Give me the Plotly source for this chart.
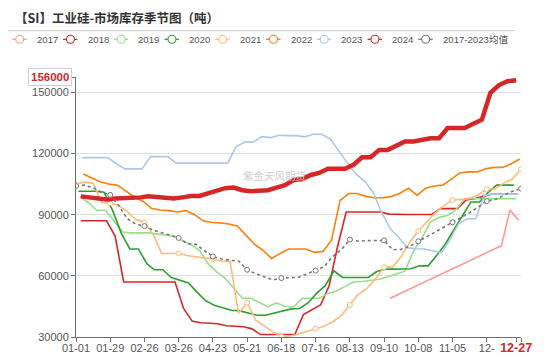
import pandas as pd
import plotly.graph_objects as go

AXIS_YEAR = 2023
RED = "#d62728"

# ---------------- data ----------------
x_tick_dates = ["01-01", "01-29", "02-26", "03-26", "04-23", "05-21", "06-18",
                "07-16", "08-13", "09-10", "10-08", "11-05", "12-03", "12-27", "12-31"]
x_tick_labels = ["01-01", "01-29", "02-26", "03-26", "04-23", "05-21", "06-18",
                 "07-16", "08-13", "09-10", "10-08", "11-05", "12-",
                 "<b><span style='color:#d62728;font-size:12.5px'>12-27</span></b>", ""]
y_ticks = [30000, 60000, 90000, 120000, 150000]
y_max = 157560
latest_label = "156000"

dates_2017 = ["2017-09-15", "2017-12-15", "2017-12-22", "2017-12-29"]
v2017 = [49000, 74800, 92300, 87300]

start_2018 = "2018-01-05"
v2018 = [87000, 87000, 87000, 87000, 79500, 57000, 57000, 57000, 57000, 57000,
         57000, 57000, 44000, 37800, 37000, 36900, 36500, 35500, 35200, 35000,
         34000, 31200, 31200, 31200, 31200, 31200, 41000, 43500, 45700, 55000,
         74500, 91300, 91300, 91300, 91300, 91300, 90300, 90100, 90100, 90100,
         90100, 90100, 93000, 93000, 93000, 97200, 97800, 99000, 100000, 100000,
         100000, 100000]

start_2019 = "2019-01-04"
v2019 = [99000, 96000, 92200, 92200, 87000, 81500, 81100, 81100, 81100, 80600,
         79900, 79400, 77300, 75300, 72500, 66000, 62000, 58800, 54000, 49000,
         49000, 47000, 44800, 46800, 45000, 44800, 49000, 49000, 49000, 51400,
         52600, 54700, 57000, 57200, 57800, 58300, 59500, 60800, 62300, 72000,
         78500, 86500, 88700, 89600, 92600, 97900, 97900, 97900, 97900, 97900,
         97900, 97900]

start_2020 = "2020-01-03"
v2020 = [101500, 101500, 101500, 101000, 92000, 81000, 73200, 73200, 66000, 63000,
         63000, 59200, 58000, 56500, 52000, 47800, 45600, 44200, 43100, 42800,
         41600, 40700, 40700, 41800, 42800, 43800, 44000, 46800, 51500, 55300,
         62500, 59200, 59200, 59200, 59200, 62100, 63300, 63300, 63300, 63500,
         64900, 64900, 70000, 75500, 82500, 89500, 96200, 96200, 100800, 104500,
         104500, 104500]

start_2021 = "2021-01-01"
v2021 = [105000, 106000, 105500, 96000, 95600, 94500, 91500, 87500, 86300, 80500,
         71000, 71000, 71000, 70000, 69300, 68800, 68300, 67300, 67100, 41600,
         46800, 38200, 35500, 32500, 30300, 30500, 31500, 32700, 34100, 35300,
         37500, 40500, 45700, 51000, 53900, 58500, 64300, 64300, 69500, 76500,
         82000, 86500, 91000, 94500, 97200, 97500, 98000, 99800, 102500, 102700,
         105500, 107500, 112400]

start_2022 = "2022-01-07"
v2022 = [110000, 108000, 106000, 105000, 104500, 101500, 98500, 96500, 93000, 92300,
         92000, 91300, 92000, 90000, 87000, 86200, 86000, 85400, 84500, 80000,
         75500, 72500, 68500, 71000, 73200, 73200, 73200, 71500, 72000, 77500,
         97000, 100400, 100400, 99000, 98300, 98300, 99000, 100500, 103000, 99500,
         103000, 104100, 104500, 107500, 110500, 111000, 111000, 112500, 113200, 113200,
         115000, 117300]

start_2023 = "2023-01-06"
v2023 = [118000, 118000, 118000, 118000, 115000, 112500, 112500, 112500, 118500, 118500,
         118500, 115300, 115300, 115300, 115300, 115300, 115300, 115300, 123400, 125600,
         125600, 128300, 127800, 129000, 128800, 128800, 128200, 129500, 129500, 127200,
         121300, 115300, 110000, 106500, 101000, 91100, 83200, 78800, 73800, 73300,
         73200, 72400, 71400, 77800, 85700, 88000, 88000, 99500, 100000, 100000,
         100000, 100000]

start_2024 = "2024-01-05"
v2024 = [99000, 98500, 97500, 97500, 98000, 98000, 98000, 98500, 99000, 98500,
         98000, 98000, 98500, 99200, 99200, 100500, 102000, 103000, 103300, 102000,
         101500, 101500, 102000, 103300, 104500, 107000, 107500, 109500, 110500, 112500,
         112500, 112500, 114500, 118200, 118200, 121800, 121800, 124000, 125900, 125900,
         126500, 127500, 127500, 132500, 132500, 132500, 134600, 136600, 149800, 153600,
         155500, 156000]

start_avg = "2023-01-01"
v_avg = [104100, 104500, 103200, 101000, 99700, 94500, 88000, 85300, 84400, 82500,
         81200, 80000, 78600, 75800, 75500, 72300, 69500, 68300, 67600, 67300,
         63000, 61000, 59500, 58000, 58900, 59000, 59300, 61000, 62600, 64500,
         69500, 72800, 77800, 77000, 77300, 77500, 77400, 72800, 73000, 74500,
         76900, 79200, 81500, 83800, 86300, 88500, 91000, 93800, 96700, 97500,
         99500, 101500, 102800]


def to_axis(dates):
    return [d.replace(year=AXIS_YEAR) for d in pd.to_datetime(dates)]


def weekly(start, values):
    return to_axis(pd.date_range(start, periods=len(values), freq="7D"))


series = [
    ("2017", to_axis(dates_2017), v2017, "#ff9896", 1.6, "solid", False),
    ("2018", weekly(start_2018, v2018), v2018, RED, 1.6, "solid", False),
    ("2019", weekly(start_2019, v2019), v2019, "#98df8a", 1.6, "solid", False),
    ("2020", weekly(start_2020, v2020), v2020, "#2ca02c", 1.6, "solid", False),
    ("2021", weekly(start_2021, v2021), v2021, "#ffbb78", 1.6, "solid", True),
    ("2022", weekly(start_2022, v2022), v2022, "#ff7f0e", 1.6, "solid", False),
    ("2023", weekly(start_2023, v2023), v2023, "#aec7e8", 1.6, "solid", False),
    ("2024", weekly(start_2024, v2024), v2024, RED, 4.5, "solid", False),
    ("2017-2023均值", weekly(start_avg, v_avg), v_avg, "#777777", 1.6, "dot", True),
]

fig = go.Figure()
for name, xs, ys, color, width, dash, show_sym in series:
    kw = dict(x=xs, y=ys, name=name, showlegend=False, hoverinfo="skip",
              line=dict(color=color, width=width, dash=dash))
    if show_sym:
        kw["mode"] = "lines+markers"
        kw["marker"] = dict(symbol="circle", size=5, color="white",
                            line=dict(color=color, width=1),
                            opacity=[1 if i % 4 == 0 else 0 for i in range(len(ys))])
    else:
        kw["mode"] = "lines"
    fig.add_trace(go.Scatter(**kw))

# ---------------- layout helpers (screen pixel -> paper) ----------------
# the page body has an 8px margin, so the figure is drawn 8px smaller and offset
OFF = 8
FIG_W, FIG_H = 550 - OFF, 357 - OFF
L, T, W, H = 76, 77, 445, 260   # plot area in screen pixels


def px(x):
    return (x - L) / W


def py(y):
    return (T + H - y) / H


annotations = []
shapes = []

# title
annotations.append(dict(text="<b>【SI】工业硅-市场库存季节图（吨）</b>", xref="paper", yref="paper",
                        x=px(13), y=py(18), xanchor="left", yanchor="middle", showarrow=False,
                        font=dict(family="Noto Sans CJK SC", size=12.5, color="#333")))
shapes.append(dict(type="line", xref="paper", yref="paper", x0=px(8), x1=px(515),
                   y0=py(30.7), y1=py(30.7), line=dict(color="#cccccc", width=1)))

# custom legend
for i, (name, xs, ys, color, width, dash, show_sym) in enumerate(series):
    x0 = 12.3 + 50.75 * i
    shapes.append(dict(type="line", xref="paper", yref="paper", x0=px(x0), x1=px(x0 + 14.4),
                       y0=py(39.3), y1=py(39.3), line=dict(color=color, width=1.3)))
    shapes.append(dict(type="circle", xref="paper", yref="paper", xsizemode="pixel",
                       ysizemode="pixel", xanchor=px(x0 + 7.4), yanchor=py(39.3),
                       x0=-4, x1=4, y0=-4, y1=4, fillcolor="white",
                       line=dict(color=color, width=1.1)))
    annotations.append(dict(text=name, xref="paper", yref="paper", x=px(x0 + 22.5), y=py(39.6),
                            xanchor="left", yanchor="middle", showarrow=False,
                            font=dict(family="Liberation Sans, Noto Sans CJK SC", size=9.6,
                                      color="#555")))

# watermark
annotations.append(dict(text="紫金天风期货", xref="paper", yref="paper", x=px(274), y=py(175),
                        xanchor="center", yanchor="middle", showarrow=False,
                        font=dict(family="Noto Sans CJK SC", size=10.5, color="#cfcfcf")))

# latest value label on y axis top
annotations.append(dict(text="<b>" + latest_label + "</b>", xref="paper", yref="paper",
                        x=0, y=1, xanchor="right", yanchor="middle", xshift=-4,
                        showarrow=False, bgcolor="white", bordercolor="#d0d0d0",
                        borderwidth=1, borderpad=2,
                        font=dict(family="Liberation Sans", size=11.5, color=RED)))

fig.update_layout(
    width=FIG_W, height=FIG_H,
    margin=dict(l=L - OFF, r=FIG_W - (L - OFF) - W, t=T - OFF, b=FIG_H - (T - OFF) - H, pad=0),
    paper_bgcolor="white", plot_bgcolor="white",
    showlegend=False,
    font=dict(family="Liberation Sans, Arial", size=11, color="#555"),
    annotations=annotations, shapes=shapes,
    xaxis=dict(type="date", range=[f"{AXIS_YEAR}-01-01", f"{AXIS_YEAR}-12-31"],
               tickvals=[f"{AXIS_YEAR}-{d}" for d in x_tick_dates], ticktext=x_tick_labels,
               tickangle=0, showgrid=False, showline=True, linecolor="#6e7079", linewidth=1,
               ticks="outside", ticklen=4, tickcolor="#6e7079", zeroline=False,
               ticklabelstandoff=-3,
               tickfont=dict(size=11, color="#555"), automargin=False),
    yaxis=dict(range=[30000, y_max], tickvals=y_ticks + [y_max],
               ticktext=[str(v) for v in y_ticks] + [""],
               showgrid=True, gridcolor="#e0e0e0", gridwidth=1, showline=True,
               linecolor="#6e7079", linewidth=1, ticks="outside", ticklen=4,
               tickcolor="#6e7079", zeroline=False,
               tickfont=dict(size=11, color="#555"), automargin=False),
)

fig.write_html("out.html")
